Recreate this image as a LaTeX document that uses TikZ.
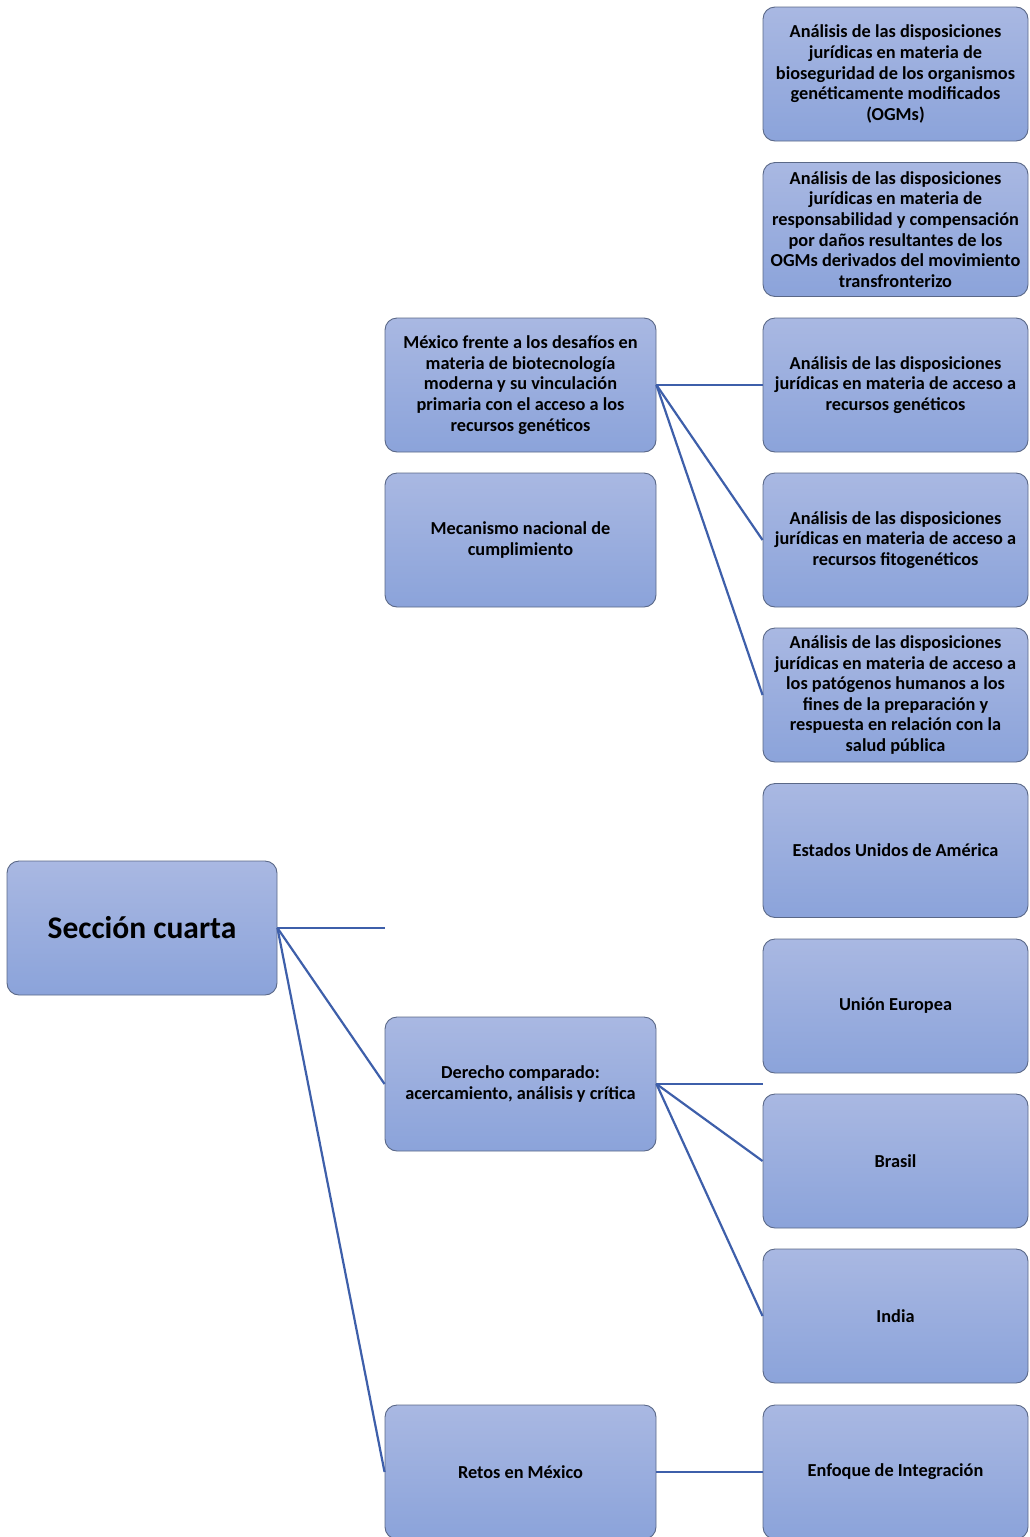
\documentclass[tikz,border=0pt]{standalone}
\usepackage{fontspec}
\setmainfont{Carlito}
\definecolor{boxtop}{RGB}{169,184,226}
\definecolor{boxbot}{RGB}{139,163,218}
\definecolor{boxline}{RGB}{90,104,135}
\definecolor{conn}{RGB}{62,95,170}
\tikzset{
  box/.style={draw=boxline, line width=0.9pt, rounded corners=12pt,
    top color=boxtop, bottom color=boxbot, minimum height=134pt,
    inner sep=0pt, align=center,
    font=\fontsize{18.3}{20.6}\selectfont\bfseries},
  midbox/.style={box, minimum width=271pt},
  rightbox/.style={box, minimum width=265pt},
  rootbox/.style={box, minimum width=270pt, font=\fontsize{31.5}{36}\selectfont\bfseries},
  link/.style={draw=conn, line width=2.2pt}
}
\begin{document}
\begin{tikzpicture}[x=1pt,y=-1pt]
\useasboundingbox (0,0) rectangle (1029,1537);
\clip (0,0) rectangle (1029,1537);
% root
\node[rootbox] (root) at (142,928) {Sección cuarta};
% middle column
\node[midbox] (m1) at (520.5,385) {México frente a los desafíos en\\materia de biotecnología\\moderna y su vinculación\\primaria con el acceso a los\\recursos genéticos};
\node[midbox] (m2) at (520.5,540) {Mecanismo nacional de\\cumplimiento};
\node[midbox] (m3) at (520.5,1084) {Derecho comparado:\\acercamiento, análisis y crítica};
\node[midbox] (m4) at (520.5,1472) {Retos en México};
% right column
\node[rightbox] (r1) at (895.5,74) {Análisis de las disposiciones\\jurídicas en materia de\\bioseguridad de los organismos\\genéticamente modificados\\(OGMs)};
\node[rightbox] (r2) at (895.5,229.5) {Análisis de las disposiciones\\jurídicas en materia de\\responsabilidad y compensación\\por daños resultantes de los\\OGMs derivados del movimiento\\transfronterizo};
\node[rightbox] (r3) at (895.5,385) {Análisis de las disposiciones\\jurídicas en materia de acceso a\\recursos genéticos};
\node[rightbox] (r4) at (895.5,540) {Análisis de las disposiciones\\jurídicas en materia de acceso a\\recursos fitogenéticos};
\node[rightbox] (r5) at (895.5,695) {Análisis de las disposiciones\\jurídicas en materia de acceso a\\los patógenos humanos a los\\fines de la preparación y\\respuesta en relación con la\\salud pública};
\node[rightbox] (r6) at (895.5,850.5) {Estados Unidos de América};
\node[rightbox] (r7) at (895.5,1006) {Unión Europea};
\node[rightbox] (r8) at (895.5,1161) {Brasil};
\node[rightbox] (r9) at (895.5,1316) {India};
\node[rightbox] (r10) at (895.5,1472) {Enfoque de Integración};
% free ends
\coordinate (free1) at (385,928);
\coordinate (free2) at (763,1084);
% connectors
\draw[link] (root.east) -- (free1);
\draw[link] (root.east) -- (m3.west);
\draw[link] (root.east) -- (m4.west);
\draw[link] (m1.east) -- (r3.west);
\draw[link] (m1.east) -- (r4.west);
\draw[link] (m1.east) -- (r5.west);
\draw[link] (m3.east) -- (free2);
\draw[link] (m3.east) -- (r8.west);
\draw[link] (m3.east) -- (r9.west);
\draw[link] (m4.east) -- (r10.west);
\end{tikzpicture}
\end{document}
